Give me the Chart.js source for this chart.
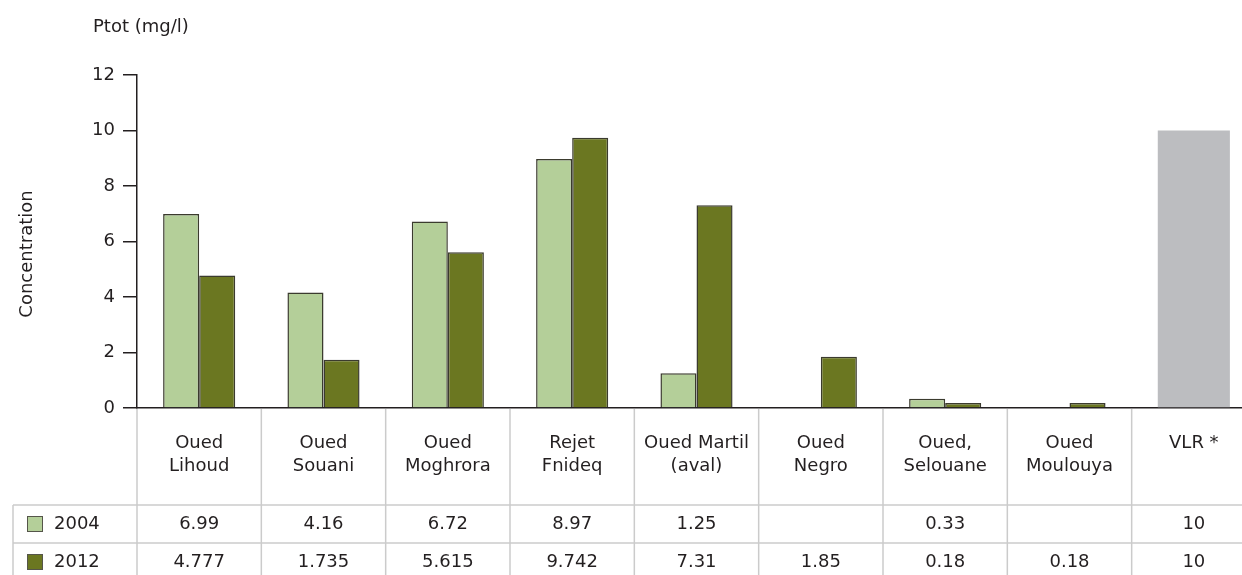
<!DOCTYPE html>
<html>
<head>
<meta charset="utf-8">
<script src="https://cdn.jsdelivr.net/npm/chart.js@4/dist/chart.umd.min.js"></script>
<style>
html, body { margin: 0; padding: 0; background: #fff; overflow: hidden; }
#wrap { width: 1256px; height: 575px; }
</style>
</head>
<body>
<div id="wrap"><canvas id="myChart" width="1256" height="575"></canvas></div>
<script>
// categories (one entry per line of the label)
const categories = [
    ["Oued", "Lihoud"], ["Oued", "Souani"], ["Oued", "Moghrora"], ["Rejet", "Fnideq"],
    ["Oued Martil", "(aval)"], ["Oued", "Negro"], ["Oued,", "Selouane"], ["Oued", "Moulouya"], ["VLR *"]
];
const values2004 = [6.99, 4.16, 6.72, 8.97, 1.25, null, 0.33, null, 10];
const values2012 = [4.777, 1.735, 5.615, 9.742, 7.31, 1.85, 0.18, 0.18, 10];
const yTicks = [0, 2, 4, 6, 8, 10, 12];
const vlrIndex = 8; // last column is the limit value (VLR), drawn as a grey bar

const FONT = '"DejaVu Sans", Verdana, sans-serif';
const TEXT = '#231f20';
const light = '#b4cf99';
const dark = '#6b7721';

const tableRows = [
    { label: '2004', color: light, values: values2004 },
    { label: '2012', color: dark, values: values2012 }
];

// the table under the chart + the axis titles
const tablePlugin = {
    id: 'dataTable',
    afterDraw(chart) {
        const { ctx, chartArea } = chart;
        const n = categories.length;
        const colW = (chartArea.right - chartArea.left) / n;
        const top = chartArea.bottom;
        const bottom = chart.height;
        const rowY = [top + 97, top + 135];

        ctx.save();
        ctx.strokeStyle = '#cbcbcb';
        ctx.lineWidth = 1.5;
        const line = (x1, y1, x2, y2) => {
            ctx.beginPath();
            ctx.moveTo(x1, y1);
            ctx.lineTo(x2, y2);
            ctx.stroke();
        };
        for (let i = 0; i < n; i++) {
            const xx = chartArea.left + i * colW;
            line(xx, top + 1, xx, bottom);
        }
        line(13, rowY[0], 13, bottom);
        rowY.forEach(y => line(13, y, chart.width, y));

        ctx.fillStyle = TEXT;
        ctx.font = '18px ' + FONT;
        ctx.textAlign = 'center';
        ctx.textBaseline = 'middle';
        categories.forEach((lab, i) => {
            const cx = chart.scales.x.getPixelForValue(i);
            lab.forEach((t, j) => ctx.fillText(t, cx, top + 35 + j * 23));
        });

        tableRows.forEach((row, r) => {
            const cy = rowY[r] + 19;
            row.values.forEach((v, i) => {
                if (v === null) return;
                ctx.fillText(String(v), chart.scales.x.getPixelForValue(i), cy);
            });
            ctx.fillStyle = row.color;
            ctx.fillRect(27, cy - 8, 16, 16);
            ctx.strokeStyle = '#55554a';
            ctx.lineWidth = 1;
            ctx.strokeRect(27.5, cy - 7.5, 15, 15);
            ctx.fillStyle = TEXT;
            ctx.textAlign = 'left';
            ctx.fillText(row.label, 54, cy);
            ctx.textAlign = 'center';
        });

        // axis titles
        ctx.textAlign = 'left';
        ctx.fillText('Ptot (mg/l)', 93, 27);
        ctx.translate(27, 254);
        ctx.rotate(-Math.PI / 2);
        ctx.textAlign = 'center';
        ctx.fillText('Concentration', 0, 0);
        ctx.restore();
    }
};

var ctx = document.getElementById('myChart').getContext('2d');
var chart = new Chart(ctx, {
    type: 'bar',
    data: {
        labels: categories,
        datasets: [{
            label: '2004',
            data: values2004.map((v, i) => i === vlrIndex ? null : v),
            backgroundColor: light,
            borderColor: '#3b3b2e',
            borderWidth: 1.5
        }, {
            label: '2012',
            data: values2012.map((v, i) => i === vlrIndex ? null : v),
            backgroundColor: dark,
            borderColor: '#3b3b2e',
            borderWidth: 1.5
        }, {
            label: 'VLR',
            data: values2004.map((v, i) => i === vlrIndex ? v : null),
            backgroundColor: '#bcbdc0',
            borderWidth: 0,
            grouped: false
        }]
    },
    options: {
        responsive: false,
        animation: false,
        datasets: {
            bar: { categoryPercentage: 0.58, barPercentage: 1 }
        },
        layout: { padding: { top: 75, left: 0, right: 0, bottom: 0 } },
        plugins: {
            legend: { display: false },
            tooltip: { enabled: false }
        },
        scales: {
            x: {
                ticks: { display: false },
                grid: { display: false },
                border: { color: TEXT, width: 1.5 },
                afterFit(scale) { scale.height = 167; }
            },
            y: {
                min: yTicks[0],
                max: yTicks[yTicks.length - 1],
                afterBuildTicks(scale) { scale.ticks = yTicks.map(v => ({ value: v })); },
                ticks: { color: TEXT, font: { family: FONT, size: 18 }, padding: 8 },
                grid: { drawOnChartArea: false, tickLength: 14, color: TEXT, lineWidth: 1.5 },
                border: { color: TEXT, width: 1.5 },
                afterFit(scale) { scale.width = 137; }
            }
        }
    },
    plugins: [tablePlugin]
});
</script>
</body>
</html>
